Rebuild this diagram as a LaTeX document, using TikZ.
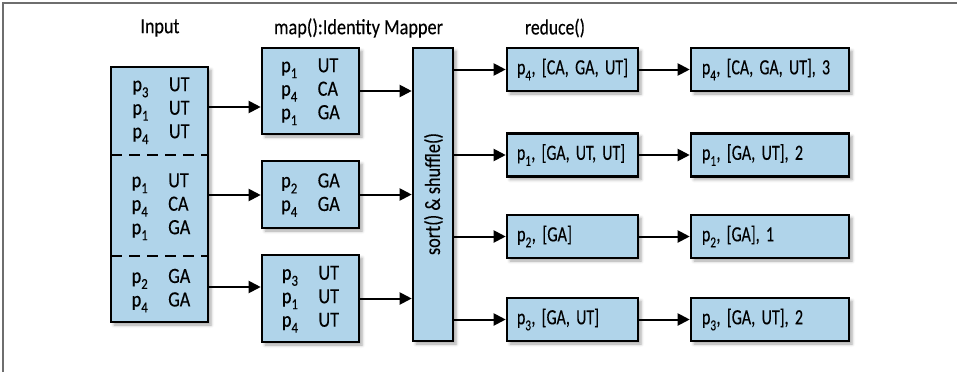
\documentclass[tikz,border=0pt]{standalone}
\usepackage{fontspec}
\usepackage{graphicx}
\setmainfont[FakeStretch=0.84, FakeBold=0.3]{Carlito}
\usetikzlibrary{arrows.meta,shadows.blur}
\definecolor{boxblue}{RGB}{176,212,234}
\definecolor{framegray}{RGB}{110,110,110}
\begin{document}
\begin{tikzpicture}[x=1pt,y=-1pt,
  box/.style={draw=black, line width=2.6pt, fill=boxblue, inner sep=0pt,
    blur shadow={shadow xshift=3pt, shadow yshift=-3pt, shadow blur radius=3pt, shadow opacity=35}},
  bigfont/.style={font=\fontsize{21.7}{23.5}\selectfont},
  txt/.style={bigfont, inner sep=0pt},
  rbox/.style={box, bigfont, minimum height=43pt, inner xsep=10pt, text width=111pt, align=left},
  fbox/.style={box, bigfont, minimum height=43pt, inner xsep=11pt, text width=136pt, align=left},
  arr/.style={line width=2pt, -{Triangle[length=12pt,width=12pt]}},
  sepline/.style={line width=2.6pt, dash pattern=on 11pt off 7pt}]
\useasboundingbox (0,0) rectangle (957,372);
\draw[framegray, line width=1.5pt] (3,372) -- (3,3) -- (957,3);

\newcommand{\rows}[1]{\begin{tabular}{@{}l@{\hspace{20pt}}l@{}}#1\end{tabular}}
\newcommand{\pp}[1]{p\textsubscript{\raisebox{-0.4ex}{#1}}}
\newcommand{\fitw}[2]{\resizebox{#1}{\height}{#2}}

% headers
\node[txt] (hin) at (160,28) {\fitw{39pt}{Input}};
\node[txt] (hmap) at (358.5,28) {\fitw{169pt}{map():Identity Mapper}};
\node[txt] (hred) at (555,28) {\fitw{60pt}{reduce()}};

% input box
\node[box, minimum width=97pt, minimum height=255pt] (in) at (159.5,194.5) {};
\draw[sepline] (111,155) -- (208,155);
\draw[sepline] (111,256) -- (208,256);
\node[txt] (in1) at (161,110) {\rows{\pp{3} & UT\\ \pp{1} & UT\\ \pp{4} & UT}};
\node[txt] (in2) at (161,206) {\rows{\pp{1} & UT\\ \pp{4} & CA\\ \pp{1} & GA}};
\node[txt] (in3) at (161,290) {\rows{\pp{2} & GA\\ \pp{4} & GA}};

% map boxes
\node[box, bigfont, minimum width=97pt, minimum height=86pt] (m1) at (310.5,91) {\rows{\pp{1} & UT\\ \pp{4} & CA\\ \pp{1} & GA}};
\node[box, bigfont, minimum width=97pt, minimum height=67pt] (m2) at (310.5,194.5) {\rows{\pp{2} & GA\\ \pp{4} & GA}};
\node[box, bigfont, minimum width=97pt, minimum height=87pt] (m3) at (310.5,298.5) {\rows{\pp{3} & UT\\ \pp{1} & UT\\ \pp{4} & UT}};

% sort box
\node[box, minimum width=40pt, minimum height=293pt] (sort) at (433,194.5) {};
\node[txt, rotate=90] (sortt) at (433.5,194) {\fitw{122pt}{sort() \& shuffle()}};

% reduce boxes
\node[rbox] (r1) at (572.5,69.5) {\fitw{111pt}{\pp{4}, [CA, GA, UT]}};
\node[rbox] (r2) at (572.5,155) {\fitw{108pt}{\pp{1}, [GA, UT, UT]}};
\node[rbox] (r3) at (572.5,236.5) {\fitw{55pt}{\pp{2}, [GA]}};
\node[rbox] (r4) at (572.5,319.5) {\fitw{82pt}{\pp{3}, [GA, UT]}};

% final boxes
\node[fbox] (f1) at (770,69.5) {\fitw{128pt}{\pp{4}, [CA, GA, UT], 3}};
\node[fbox] (f2) at (770,155) {\fitw{101pt}{\pp{1}, [GA, UT], 2}};
\node[fbox] (f3) at (770,236.5) {\fitw{72pt}{\pp{2}, [GA], 1}};
\node[fbox] (f4) at (770,319.5) {\fitw{101pt}{\pp{3}, [GA, UT], 2}};

% arrows input -> map
\coordinate (a1) at (208,107);
\coordinate (a2) at (208,195);
\coordinate (a3) at (208,287);
\draw[arr] (a1) -- (a1 -| m1.west);
\draw[arr] (a2) -- (a2 -| m2.west);
\draw[arr] (a3) -- (a3 -| m3.west);

% map -> sort
\draw[arr] (m1.east) -- (m1.east -| sort.west);
\draw[arr] (m2.east) -- (m2.east -| sort.west);
\draw[arr] (m3.east) -- (m3.east -| sort.west);

% sort -> reduce
\draw[arr] (sort.east |- r1.west) -- (r1.west);
\draw[arr] (sort.east |- r2.west) -- (r2.west);
\draw[arr] (sort.east |- r3.west) -- (r3.west);
\draw[arr] (sort.east |- r4.west) -- (r4.west);

% reduce -> final
\draw[arr] (r1.east) -- (f1.west);
\draw[arr] (r2.east) -- (f2.west);
\draw[arr] (r3.east) -- (f3.west);
\draw[arr] (r4.east) -- (f4.west);
\end{tikzpicture}
\end{document}
